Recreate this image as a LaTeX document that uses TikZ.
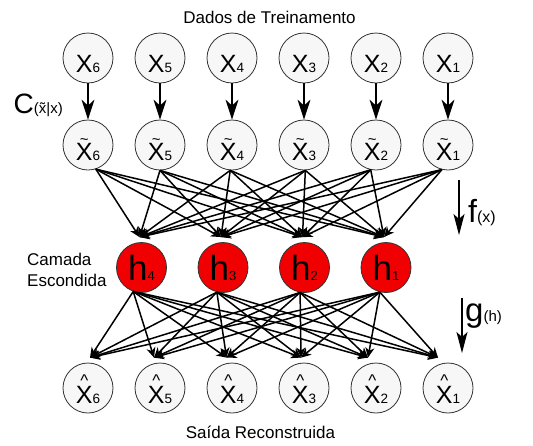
\documentclass[tikz,border=0pt]{standalone}
\usepackage{fontspec}
\setmainfont{Liberation Sans}
\usetikzlibrary{arrows.meta}
\newcommand\lbl[2]{\smash{\raisebox{-#1}{#2}}}
\newcommand\fs[1]{\fontsize{#1}{#1}\selectfont}
\newcommand\xsub[1]{{\fs{13.5}#1}}
\newcommand\plainx[1]{{\fs{25}X}\xsub{#1}}
\newcommand\tildex[1]{{\fs{25}\ooalign{X\cr\hidewidth\raisebox{16pt}{\fs{15}\textasciitilde}\hidewidth\cr}}\xsub{#1}}
\newcommand\hatx[1]{{\fs{25}\ooalign{X\cr\hidewidth\raisebox{17pt}{\fs{17}\textasciicircum}\hidewidth\cr}}\xsub{#1}}
\newcommand\hl[1]{{\fs{35}h}{\fs{13}#1}}
\definecolor{nodefill}{HTML}{F7F7F7}
\definecolor{nodeline}{HTML}{333333}
\definecolor{hidred}{HTML}{F00000}
\begin{document}
\begin{tikzpicture}[x=1pt,y=-1pt,
  inode/.style={circle,draw=nodeline,fill=nodefill,line width=0.8pt,minimum size=50pt,inner sep=0pt},
  hnode/.style={circle,draw=nodeline,fill=hidred,line width=0.8pt,minimum size=50pt,inner sep=0pt},
  edge/.style={line width=1.5pt,-{Stealth[length=10pt,width=9pt,inset=3pt]}},
  varrow/.style={line width=1.3pt,-{Stealth[length=20pt,width=13pt,inset=6pt]}},
  sarrow/.style={line width=1.1pt,-{Stealth[length=21pt,width=11pt,inset=5pt]}},
  txt/.style={inner sep=0pt,font=\fs{17}}]
\useasboundingbox (0,0) rectangle (533,445);
\foreach \i/\x in {6/88,5/160,4/232,3/304,2/376,1/448} {
  \node[inode] (x\i) at (\x,58) {\lbl{14.5pt}{\plainx{\i}}};
  \node[inode] (t\i) at (\x,145) {\lbl{15.5pt}{\tildex{\i}}};
  \node[inode] (o\i) at (\x,388) {\lbl{15pt}{\hatx{\i}}};
  \draw[varrow] (x\i) -- (t\i);
}
\foreach \j/\x in {4/141.5,3/223,2/304.5,1/386}
  \node[hnode] (h\j) at (\x,267.5) {\lbl{12.5pt}{\hl{\j}}};
\foreach \j in {1,...,4}
  \coordinate (hin\j) at ([xshift=-2pt,yshift=5pt]h\j.north);
\foreach \i/\d in {6/2,5/-6,4/-5.5,3/-3,2/-8,1/-10}
  \coordinate (oin\i) at ([xshift=\d pt,yshift=5pt]o\i.north);
\foreach \i/\a in {6/288.7,5/270,4/266.6,3/273.4,2/258.5,1/256.1}
  \foreach \j in {1,...,4}
    \draw[edge] (t\i.\a) -- (hin\j);
\foreach \j/\a in {4/251.3,3/256.1,2/260.8,1/256.1}
  \foreach \i in {1,...,6}
    \draw[edge] (h\j.\a) -- (oin\i);
\coordinate (fa) at (459,180);
\coordinate (fb) at (459,235);
\draw[sarrow] (fa) -- (fb);
\coordinate (ga) at (462,298);
\coordinate (gb) at (462,353);
\draw[sarrow] (ga) -- (gb);
\node[txt,anchor=base] (title) at (269.5,23.6) {Dados de Treinamento};
\node[txt,anchor=base] (out) at (260.5,438) {Saída Reconstruida};
\node[txt,anchor=base west] (cam1) at (27,265) {Camada};
\node[txt,anchor=base west] (cam2) at (27,286) {Escondida};
\node[inner sep=0pt,anchor=base west] (clab) at (13.5,113) {{\fs{28}C}{\fs{15}(\~{x}|x)}};
\node[inner sep=0pt,anchor=base west] (flab) at (468,222) {{\fs{32}f}{\fs{16}(x)}};
\node[inner sep=0pt,anchor=base west] (glab) at (465,321) {{\fs{33}g}{\fs{15}(h)}};
\end{tikzpicture}
\end{document}
